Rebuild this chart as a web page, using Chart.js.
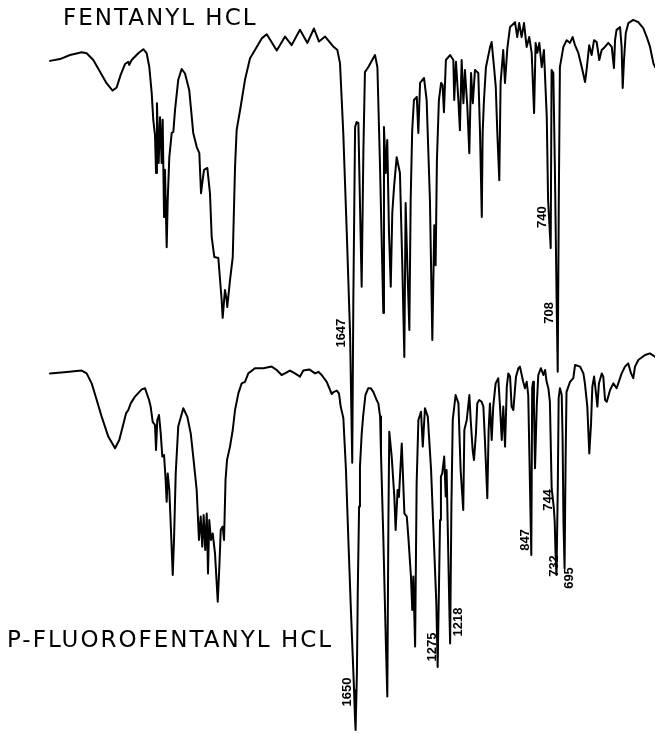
<!DOCTYPE html>
<html>
<head>
<meta charset="utf-8">
<script src="https://cdn.jsdelivr.net/npm/chart.js@4.4.1/dist/chart.umd.min.js"></script>
<style>
html,body{margin:0;padding:0;background:#fff;}
#wrap{position:relative;width:655px;height:734px;}
</style>
</head>
<body>
<div id="wrap"><canvas id="c"></canvas></div>
<script>
// ---- Titles ----
const topTitle = 'FENTANYL HCL';
const bottomTitle = 'P-FLUOROFENTANYL HCL';

// ---- Upper spectrum: fentanyl HCl (wavenumber cm-1, % transmittance) ----
const topWavenumber = [
3965,3878,3790,3688,3645,3587,3528,3470,3418,3383,
3348,3310,3281,3273,3252,3194,3150,3121,3098,3077,
3063,3048,3039,3031,3016,3004,2990,2981,2969,2961,
2946,2937,2923,2902,2888,2873,2845,2815,2786,2749,
2714,2684,2661,2646,2635,2620,2591,2568,2553,2530,
2495,2466,2457,2437,2422,2417,2393,2369,2349,2335,
2300,2262,2218,2175,2116,2072,1992,1954,1924,1886,
1852,1822,1799,1771,1734,1715,1703,1688,1672,1657,
1647,1642,1634,1627,1619,1612,1604,1596,1589,1574,
1543,1532,1520,1505,1502,1494,1487,1479,1471,1464,
1456,1444,1429,1418,1409,1403,1395,1386,1380,1373,
1365,1352,1345,1337,1319,1307,1292,1281,1272,1266,
1260,1251,1241,1234,1228,1219,1200,1185,1181,1173,
1162,1155,1147,1139,1132,1121,1112,1104,1096,1086,
1071,1063,1055,1051,1045,1036,1017,1010,999,991,
984,975,969,957,949,938,926,903,893,884,
873,862,850,838,827,816,809,801,792,781,
771,758,752,740,736,728,721,713,708,703,
698,682,667,652,640,629,614,598,583,576,
564,553,542,530,518,507,492,477,461,451,
446,439,423,416,411,405,397,385,363,340,
317,301,286,271,263
];
const topTransmittance = [
89.8,90.2,91.1,91.7,91.5,90,87.4,84.8,83.2,83.9,
86.7,89.1,89.6,88.9,90,91.5,92.4,91.5,88.5,82.7,
76.7,73.3,64.9,80.4,67.1,77.3,67.1,76.7,55.1,65.6,
48.4,58.9,68.4,73.8,74,78.9,85.6,88,87,83.3,
73.8,70.7,69.3,60.4,62.7,65.6,66,60.4,50.7,46.2,
46,36.7,32.7,38.9,36.7,35.1,41.1,46.2,66.2,74.4,
79.6,85.6,90.4,92.2,94.8,95.7,92.1,95.2,93.3,96.7,
93.8,97,94.1,95.2,93,92.2,89.3,73.8,51.6,29.3,
0.5,36.7,75.1,76.2,76,58.9,39.6,70,87.3,88.4,
91.1,88.4,66.2,33.8,75.1,64.9,72.2,51.6,39.6,56,
61.8,68.4,64.9,44,24,58.2,44,30,58.9,74.4,
81.1,81.8,73.8,84.9,86,81.1,58.9,27.8,53.3,44.4,
67.8,81.1,84.9,84.4,78.4,90,91.1,90,81.1,89.6,
81.1,74.4,90,80.4,87.8,79.6,69.3,87.1,80.4,87.8,
87.1,73.8,55.1,73.8,81.1,88.4,92.9,94,88.4,84,
73.8,63.3,84.9,92.2,84.9,92.7,97.3,98.4,95.1,98.2,
95.1,98.2,92.9,95.1,91.6,78.2,93.8,91.6,93.8,88.4,
92.2,77.3,58.9,48.2,87.8,87.1,66.2,36.7,20.7,58.9,
88.4,92.9,94.4,93.8,95.1,93.3,91.6,88.4,85.1,87.8,
93.3,91.1,94.4,94,90,92.2,92.9,93.8,92.9,88.2,
94.4,96.7,97.3,92.9,83.8,90,96,98.2,98.9,98.4,
97.1,95.1,92.9,89.3,88.4
];

// ---- Lower spectrum: p-fluorofentanyl HCl ----
const bottomWavenumber = [
4000,3854,3723,3680,3636,3592,3549,3491,3432,3395,
3365,3336,3316,3295,3258,3199,3170,3150,3135,3121,
3103,3083,3074,3063,3048,3033,3019,3004,2990,2981,
2972,2958,2946,2928,2917,2902,2880,2836,2801,2771,
2749,2719,2699,2684,2670,2658,2644,2631,2620,2609,
2594,2579,2559,2535,2521,2509,2492,2480,2467,2454,
2428,2404,2384,2355,2326,2297,2268,2210,2137,2064,
2020,1988,1973,1950,1927,1904,1889,1862,1835,1820,
1805,1782,1759,1749,1736,1726,1718,1706,1694,1683,
1672,1663,1657,1653,1650,1644,1640,1634,1630,1622,
1615,1605,1592,1581,1569,1554,1546,1538,1534,1523,
1512,1505,1500,1496,1485,1473,1467,1458,1452,1439,
1427,1416,1409,1397,1391,1386,1378,1371,1363,1351,
1343,1333,1320,1305,1290,1281,1275,1264,1260,1254,
1245,1238,1234,1228,1222,1218,1212,1206,1193,1180,
1170,1158,1153,1142,1130,1124,1115,1109,1100,1094,
1085,1074,1066,1059,1048,1042,1036,1028,1021,1010,
998,990,982,975,967,959,952,944,937,929,
917,906,899,884,876,868,861,847,843,839,
835,830,822,815,803,792,784,777,769,762,
754,744,740,736,732,726,722,716,708,704,
700,695,690,686,670,655,647,624,609,602,
591,582,574,568,560,553,545,538,525,518,
510,502,487,472,457,434,419,404,391,381,
373,358,327,305,282
];
const bottomTransmittance = [
90.4,90.75,91.1,90.4,87.9,83.75,79.6,74.6,71.7,73.75,
77.1,80.4,81.25,82.9,84.6,86.4,86.7,85,83.75,82.1,
78.3,77.5,71.25,78.75,80,75.4,69.6,70,63.75,58.3,
65.4,61.25,52.9,40,48.75,65.4,77.1,81.7,79.6,75.4,
69.6,61.25,48.75,54.6,47.1,55,46.25,55.4,40.4,53.75,
48.75,50.4,45.4,33.3,42.1,51.25,52.1,48.75,63.75,68.75,
72.1,76.25,81.25,85.4,87.9,88.3,90.4,91.7,91.7,92.1,
91.25,90,90.4,91.1,90.4,89.6,91.1,91.4,90.4,90.8,
90,88.3,85.25,85.8,86.1,85.4,82.1,79.25,66.25,48.75,
32.1,19.6,11.25,4.6,1.25,15.4,36.25,57.1,67.1,75.4,
80,85,86.7,86.7,85.8,83.75,82.9,79.6,70.5,48.75,
23.75,9.6,53.75,75.8,69.6,59.6,51.25,61.25,59.5,72.9,
55.4,54.6,49.6,39.6,31.25,39.6,22.1,62.9,78.75,80.8,
72.1,81.7,79.6,66.25,45.4,32.9,17,53.75,64.6,65.4,
69.6,59.6,66.25,49.6,32.9,22.9,57.9,78.75,85,82.9,
66.25,56.25,76.25,78.75,85,78.75,71.25,68.75,75.4,82.9,
83.75,83.3,82.1,73.75,59.2,76.25,82.9,73.75,82.1,87.9,
89.2,82.1,73.75,82.1,72.1,87.1,90.4,89.6,82.1,81.25,
89.6,91.7,92.1,88.3,86.7,88.3,85,45,86.7,88.3,
82.5,66.7,82.5,90,91.7,90,91.25,88.3,86.7,83.3,
61.7,56.7,53.3,45,40,61.7,84.2,86.7,85,74.2,
53.3,41.7,70,85.8,88.3,89.2,92.5,92.1,90.4,87.9,
82.1,70.4,77.9,87.1,89.6,86.25,82.1,87.9,90.4,89.6,
83.75,83.3,86.25,87.9,86.7,90.4,92.1,92.9,90.4,89.2,
92.1,93.75,95,95.4,94.6
];

// ---- Peak annotations (text, and where the text sits in wavenumber / %T) ----
const topPeakLabels = ['1647','740','708'];
const topPeakLabelWavenumber = [1698,780,748];
const topPeakLabelTransmittance = [29.3,55.1,33.8];
const bottomPeakLabels = ['1650','1275','1218','847','744','732','695'];
const bottomPeakLabelWavenumber = [1689,1301,1182,876,771,743,675];
const bottomPeakLabelTransmittance = [10.75,22,28.25,48.75,58.75,42.25,39.25];

// ---- Abscissa: chart paper changes scale at 2000 cm-1 (upper region compressed) ----
const SPLIT = 2000, COMPRESS = 1.911;
function axisPos(wn){
  return wn >= SPLIT ? (4000 - wn) / COMPRESS : (4000 - SPLIT) / COMPRESS + (SPLIT - wn);
}
function toPoints(wns, ts){ return wns.map((w,i)=>({x:axisPos(w), y:ts[i]})); }

const layoutCfg = {
  topTitlePos:{x:63,y:25}, bottomTitlePos:{x:7,y:647},
  titleFont:'23px "DejaVu Sans"', titleSpacing:'2px',
  peakFont:'bold 13px "Liberation Sans", Arial, sans-serif',
  ink:'#000'
};

const textPlugin = {
  id:'spectrumTexts',
  afterDatasetsDraw(chart){
    const ctx = chart.ctx;
    ctx.save();
    ctx.fillStyle = layoutCfg.ink;
    ctx.font = layoutCfg.titleFont;
    ctx.letterSpacing = layoutCfg.titleSpacing;
    ctx.textAlign = 'left';
    ctx.textBaseline = 'alphabetic';
    ctx.fillText(topTitle, layoutCfg.topTitlePos.x, layoutCfg.topTitlePos.y);
    ctx.fillText(bottomTitle, layoutCfg.bottomTitlePos.x, layoutCfg.bottomTitlePos.y);
    ctx.letterSpacing = '0px';
    ctx.font = layoutCfg.peakFont;
    ctx.textAlign = 'center';
    ctx.textBaseline = 'middle';
    const draw = (xs, ys, texts, wns, ts) => {
      texts.forEach((t,i)=>{
        const px = xs.getPixelForValue(axisPos(wns[i]));
        const py = ys.getPixelForValue(ts[i]);
        ctx.save();
        ctx.translate(px, py);
        ctx.rotate(-Math.PI/2);
        ctx.fillText(t, 0, 0);
        ctx.restore();
      });
    };
    draw(chart.scales.xTop, chart.scales.yTop, topPeakLabels, topPeakLabelWavenumber, topPeakLabelTransmittance);
    draw(chart.scales.x, chart.scales.yBot, bottomPeakLabels, bottomPeakLabelWavenumber, bottomPeakLabelTransmittance);
    ctx.restore();
  }
};

new Chart(document.getElementById('c'), {
  type:'line',
  data:{
    datasets:[
      {label:topTitle, data:toPoints(topWavenumber, topTransmittance), xAxisID:'xTop', yAxisID:'yTop',
       borderColor:'#000', borderWidth:2, pointRadius:0, tension:0, fill:false, borderJoinStyle:'round', borderCapStyle:'round'},
      {label:bottomTitle, data:toPoints(bottomWavenumber, bottomTransmittance), xAxisID:'x', yAxisID:'yBot',
       borderColor:'#000', borderWidth:2, pointRadius:0, tension:0, fill:false, borderJoinStyle:'round', borderCapStyle:'round'}
    ]
  },
  options:{
    responsive:true, maintainAspectRatio:false, animation:false, devicePixelRatio:1,
    layout:{padding:0},
    plugins:{legend:{display:false}, tooltip:{enabled:false}, title:{display:false}},
    scales:{
      x:{type:'linear', axis:'x', display:false, min:-228.5, max:2764.9},
      xTop:{type:'linear', axis:'x', display:false, min:-210.2, max:2783.2},
      yBot:{type:'linear', axis:'y', display:false, min:0.25, max:183.75},
      yTop:{type:'linear', axis:'y', display:false, min:-59.78, max:103.33}
    }
  },
  plugins:[textPlugin]
});
</script>
</body>
</html>
